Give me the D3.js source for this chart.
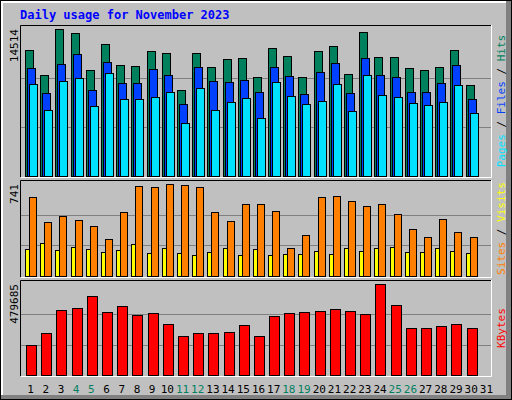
<!DOCTYPE html>
<html><head><meta charset="utf-8">
<script src="https://cdn.jsdelivr.net/npm/d3@7"></script>
<style>body{margin:0;background:#fff}</style></head>
<body><svg id="c" width="512" height="400"></svg>
<script>
const days = d3.range(1,32).map(String);
const weekends = ["4","5","11","12","18","19","25","26"];
const hits  = [12410,9940,14514,14085,10430,13000,10925,10830,12310,12110,8460,12110,10730,11520,11620,9740,12600,11815,9740,12310,12800,10040,14185,11715,11715,10630,10430,10730,12410,8950];
const files = [10630,8160,11025,12010,8460,11220,9150,9150,10530,9940,7075,10730,9345,9250,9445,8260,10730,9840,8065,10235,11125,8160,11620,9940,9740,8260,8260,9150,10925,7570];
const pages = [9050,6485,9345,9645,6880,10135,7570,7570,7770,8260,5200,8655,6485,7275,7670,5695,9250,7865,7075,7375,9050,6385,9940,7965,7770,7175,6980,7275,8950,6190];
const visits= [633,432,480,448,400,295,512,722,714,741,730,714,512,440,577,577,520,223,327,633,641,601,561,577,496,376,311,456,351,311];
const sites = [215,263,207,231,215,190,207,255,182,223,182,166,190,223,166,215,166,174,174,199,174,223,199,223,231,190,190,223,199,182];
const kbytes= [158100,221400,342600,353200,416400,332100,363700,316300,326800,268800,205600,221400,221400,226700,263600,205600,311000,326800,332100,337300,347900,337300,321500,479685,369000,247700,247700,258300,268800,247700];
const maxLabels = ["14514","741","479685"];

const svg = d3.select("#c");
const F = "DejaVu Sans Mono, monospace";
// outer background and bevel
svg.append("rect").attr("x",0).attr("y",0).attr("width",512).attr("height",400).attr("fill","#000");
svg.append("rect").attr("x",1).attr("y",1).attr("width",510).attr("height",398).attr("fill","#808080");
svg.append("rect").attr("x",1).attr("y",1).attr("width",505).attr("height",394).attr("fill","#fff");
svg.append("rect").attr("x",3).attr("y",3).attr("width",503).attr("height",392).attr("fill","#c0c0c0");
svg.append("text").attr("x",20).attr("y",19).attr("font-family",F).attr("font-weight","bold")
  .attr("font-size",12).attr("fill","#0000ff").text("Daily usage for November 2023");

const x = d3.scaleBand().domain(days).range([20,491]);
const x0 = 20, x1 = 491;

function panel(top, bottom, maxY, maxVal, label, legend){
  svg.append("rect").attr("x",x0).attr("y",top).attr("width",x1-x0).attr("height",bottom-top).attr("fill","#c0c0c0");
  const y = d3.scaleLinear().domain([0,maxVal]).range([bottom-1,maxY]);
  // gridlines
  [1/3,2/3].forEach(f=>{
    const gy = Math.round(y(maxVal*f))+0.5;
    svg.append("line").attr("x1",x0).attr("x2",x1).attr("y1",gy).attr("y2",gy).attr("stroke","#808080");
  });
  svg.append("path").attr("d",`M${x0+0.5},${bottom}V${top+0.5}H${x1}`).attr("stroke","#000").attr("fill","none");
  svg.append("path").attr("d",`M${x0+1},${bottom+0.5}H${x1+0.5}V${top}`).attr("stroke","#fff").attr("fill","none");
  svg.append("text").attr("transform",`translate(18,${maxY}) rotate(-90)`).attr("text-anchor","end")
    .attr("font-family",F).attr("font-size",11).attr("fill","#000").text(label);
  const lg = svg.append("text").attr("transform",`translate(505,${(top+bottom)/2}) rotate(-90)`)
    .attr("text-anchor","middle").attr("font-family",F).attr("font-size",11);
  legend.forEach((l,i)=>{ if(i) lg.append("tspan").attr("fill","#000").text(" / "); lg.append("tspan").attr("fill",l[1]).text(l[0]); });
  return y;
}
function bars(data, y, off, w, color){
  svg.append("g").selectAll("rect").data(data).join("rect")
    .attr("x",(d,i)=>Math.round(x(days[i]))+off+0.5).attr("width",w)
    .attr("y",d=>Math.round(y(d))+0.5).attr("height",d=>Math.round(y(0))-Math.round(y(d)))
    .attr("fill",color).attr("stroke","#000");
}
const y1 = panel(25,177,29,14514,maxLabels[0],[["Pages","#00e0ff"],["Files","#0040ff"],["Hits","#00805c"]]);
bars(hits,y1,5,8,"#00805c"); bars(files,y1,7,8,"#0040ff"); bars(pages,y1,9,8,"#00e0ff");
const y2 = panel(180,277,184,741,maxLabels[1],[["Sites","#ff8000"],["Visits","#ffff00"]]);
bars(sites,y2,5,4,"#ffff00"); bars(visits,y2,9,7,"#ff8000");
const y3 = panel(280,376,284,479685,maxLabels[2],[["KBytes","#ff0000"]]);
bars(kbytes,y3,6,10,"#ff0000");
svg.append("g").selectAll("text").data(days).join("text")
  .attr("x",d=>x(d)+x.bandwidth()/2+3).attr("y",393).attr("text-anchor","middle")
  .attr("font-family",F).attr("font-size",11)
  .attr("fill",d=>weekends.includes(d)?"#008060":"#000").text(d=>d);
</script></body></html>
